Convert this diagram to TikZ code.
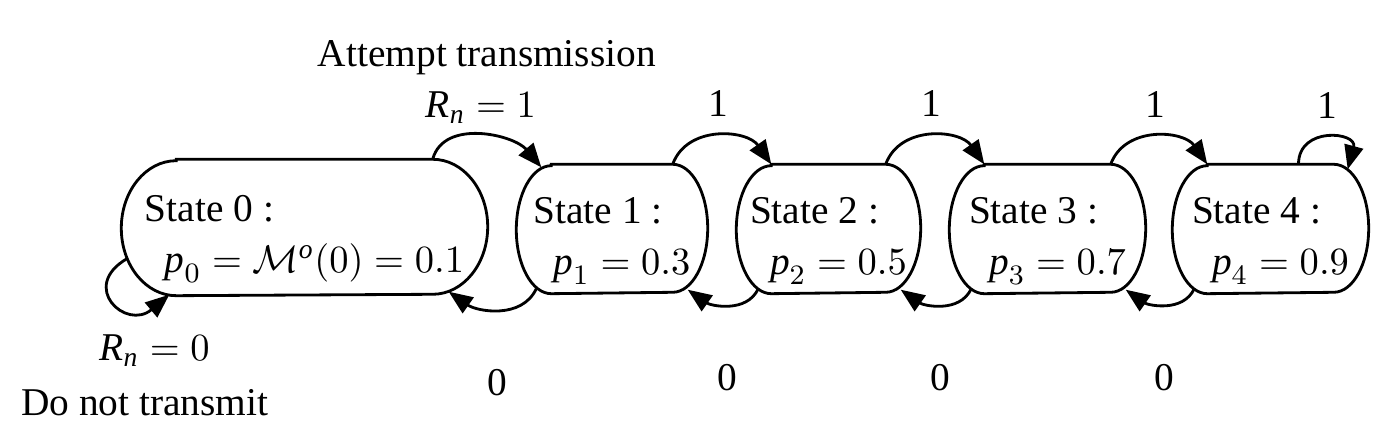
\documentclass[tikz,border=0pt]{standalone}
\usepackage{amsmath}
\usepackage{fontspec}
\setmainfont{Liberation Serif}
\usepackage{tikz}
\usetikzlibrary{arrows.meta,positioning}

% italic letters in the text font
\newcommand{\vi}[1]{\textit{#1}}
% outline of a state: flat top and bottom, half-ellipse ends
\newcommand{\stateoutline}[3]{%
  \draw[line width=0.8pt] ([xshift=#2]#1.north west) -- ([xshift=-#2]#1.north east)
    arc[start angle=90,end angle=-90,x radius=#2,y radius=#3]
    -- ([xshift=#2]#1.south west)
    arc[start angle=270,end angle=90,x radius=#2,y radius=#3] -- cycle;}

\begin{document}
\begin{tikzpicture}[every node/.style={font=\fontsize{11.2}{14.5}\selectfont},
    statenode/.style={align=left, inner sep=0pt, minimum height=1.28cm},
    trans/.style={line width=0.8pt, -{Triangle[length=6.8pt,width=5.4pt]}},
    lbl/.style={inner sep=1pt}]
    \useasboundingbox (0,0) rectangle (13.9,4.45);
    % States
    \node[statenode, minimum width=3.65cm, minimum height=1.35cm] (s0) at (3.045,2.175)
      {\rule{0pt}{14pt}State 0 :\\\hspace*{0.2cm}$\vi{p}_0=\mathcal{M}^{\vi{o}}(0)=0.1$};
    \node[statenode, minimum width=1.90cm] (s1) at (6.12,2.16)
      {\rule{0pt}{14pt}State 1 :\\\hspace*{0.2cm}$\vi{p}_1=0.3$};
    \node[statenode, minimum width=1.83cm] (s2) at (8.285,2.16)
      {\rule{0pt}{14pt}State 2 :\\\hspace*{0.2cm}$\vi{p}_2=0.5$};
    \node[statenode, minimum width=1.95cm] (s3) at (10.475,2.16)
      {\rule{0pt}{14pt}State 3 :\\\hspace*{0.2cm}$\vi{p}_3=0.7$};
    \node[statenode, minimum width=1.95cm] (s4) at (12.705,2.16)
      {\rule{0pt}{14pt}State 4 :\\\hspace*{0.2cm}$\vi{p}_4=0.9$};
    \stateoutline{s0}{0.55cm}{0.675cm}
    \foreach \s in {s1,s2,s3,s4} {
      \stateoutline{\s}{0.35cm}{0.64cm}
    }
    % Transmit: one step up
    \draw[trans] ([xshift=-0.55cm]s0.north east) to[out=75,in=130]
      node[above=0.07cm,lbl] (r1) {$\vi{R}_{\vi{n}}=1$} ([xshift=0.25cm,yshift=-0.03cm]s1.north west);
    \node[lbl, above=0.08cm of r1, xshift=0.06cm] (att) {Attempt transmission};
    \foreach \a/\b in {s1/s2,s2/s3,s3/s4} {
      \draw[trans] ([xshift=-0.35cm]\a.north east) to[out=70,in=125,looseness=1.1]
        node[above=0.15cm,lbl] (up\b) {1} ([xshift=0.35cm]\b.north west);
    }
    \draw[trans] ([xshift=0.28cm]s4.north) to[out=90,in=75,looseness=2]
      node[above=0.15cm,lbl] (up4) {1} ([xshift=-0.21cm,yshift=-0.05cm]s4.north east);
    % Back to the state before
    \draw[trans] ([xshift=0.2cm,yshift=0.05cm]s1.south west) to[out=-115,in=-35]
      node[below=0.55cm,lbl] (dn1) {0} ([xshift=-0.39cm,yshift=0.04cm]s0.south east);
    \foreach \a/\b in {s1/s2,s2/s3,s3/s4} {
      \draw[trans] ([xshift=0.22cm,yshift=0.05cm]\b.south west) to[out=-115,in=-35]
        node[below=0.55cm,lbl] (dn\b) {0} ([xshift=-0.2cm,yshift=0.04cm]\a.south east);
    }
    % Stay in state 0
    \draw[trans] ([xshift=0.06cm,yshift=-0.31cm]s0.west) to[out=210,in=220,looseness=2.6]
      node[pos=0.75,below=0.22cm,xshift=0.17cm,lbl] (r0) {$\vi{R}_{\vi{n}}=0$}
      ([xshift=0.48cm,yshift=0.01cm]s0.south west);
    \node[lbl, below=0.14cm of r0, xshift=-0.1cm] (dont) {Do not transmit};
\end{tikzpicture}
\end{document}
